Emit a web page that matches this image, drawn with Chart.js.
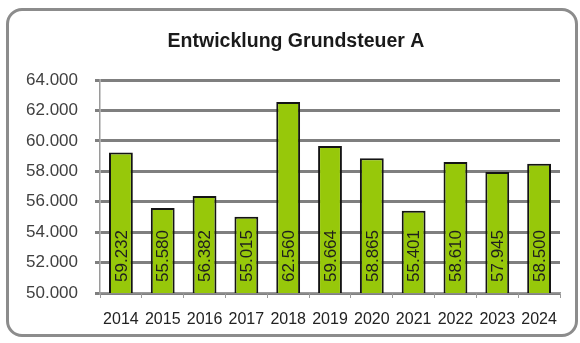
<!DOCTYPE html>
<html>
<head>
<meta charset="utf-8">
<script src="https://cdn.jsdelivr.net/npm/chart.js@4"></script>
<style>
  body { margin: 0; background: #fff; }
  #wrap { position: relative; width: 580px; height: 343px; }
  #frame {
    position: absolute; left: 6px; top: 8px; width: 566px; height: 323px;
    border: 3px solid #8c8c8c; border-radius: 16px; pointer-events: none;
  }
</style>
</head>
<body>
<div id="wrap">
  <canvas id="grundsteuerChart" width="580" height="343"></canvas>
  <div id="frame"></div>
</div>
<script>
const years = ["2014", "2015", "2016", "2017", "2018", "2019", "2020", "2021", "2022", "2023", "2024"];
const grundsteuerA = [59232, 55580, 56382, 55015, 62560, 59664, 58865, 55401, 58610, 57945, 58500];
const yMin = 50000;
const yMax = 64000;
const yStep = 2000;
const chartTitle = 'Entwicklung Grundsteuer A';

// 59232 -> "59.232"
function fmt(v) {
    return String(Math.round(v)).replace(/\B(?=(\d{3})+(?!\d))/g, '.');
}

// value labels written upwards inside the bars + the title (sits a bit right of centre)
const barLabels = {
    id: 'barLabels',
    afterDraw(chart) {
        let c = chart.ctx;
        let meta = chart.getDatasetMeta(0);
        let base = chart.scales.y.getPixelForValue(yMin);
        c.save();
        c.font = '17px "Liberation Sans", Arial, sans-serif';
        c.fillStyle = '#1e1e1e';
        c.textAlign = 'left';
        c.textBaseline = 'middle';
        meta.data.forEach(function(bar, i) {
            c.save();
            c.translate(bar.x, base - 11);
            c.rotate(-Math.PI / 2);
            c.fillText(fmt(grundsteuerA[i]), 0, 1);
            c.restore();
        });

        c.font = 'bold 19.5px "Liberation Sans", Arial, sans-serif';
        c.fillStyle = '#1a1a1a';
        c.textAlign = 'center';
        c.textBaseline = 'alphabetic';
        c.fillText(chartTitle, 296, 47);
        c.restore();
    }
};

let ctx = document.getElementById('grundsteuerChart').getContext('2d');
let chart = new Chart(ctx, {
    type: 'bar',
    data: {
        labels: years,
        datasets: [{
            data: grundsteuerA,
            backgroundColor: '#97c80a',
            borderColor: '#141414',
            borderWidth: 2,
            barPercentage: 0.57,
            categoryPercentage: 1
        }]
    },
    options: {
        responsive: false,
        animation: false,
        layout: { padding: { top: 80, right: 20, bottom: 0, left: 0 } },
        plugins: {
            legend: { display: false },
            tooltip: { enabled: false },
            title: { display: false }
        },
        scales: {
            y: {
                min: yMin,
                max: yMax,
                afterFit: function(scale) { scale.width = 100; },
                ticks: {
                    stepSize: yStep,
                    padding: 17,
                    color: '#404040',
                    font: { family: '"Liberation Sans", Arial, sans-serif', size: 17 },
                    callback: function(v) { return fmt(v); }
                },
                grid: { color: '#7f7f7f', lineWidth: 3, tickLength: 5 },
                border: { color: '#9a9a9a', width: 1.5 }
            },
            x: {
                afterFit: function(scale) { scale.height = 50; },
                ticks: {
                    autoSkip: false,
                    maxRotation: 0,
                    padding: 12,
                    color: '#222',
                    font: { family: '"Liberation Sans", Arial, sans-serif', size: 16 }
                },
                grid: { drawOnChartArea: false, color: '#9a9a9a', lineWidth: 1, tickLength: 5 },
                border: { color: '#9a9a9a', width: 1.5 }
            }
        }
    },
    plugins: [barLabels]
});
</script>
</body>
</html>
